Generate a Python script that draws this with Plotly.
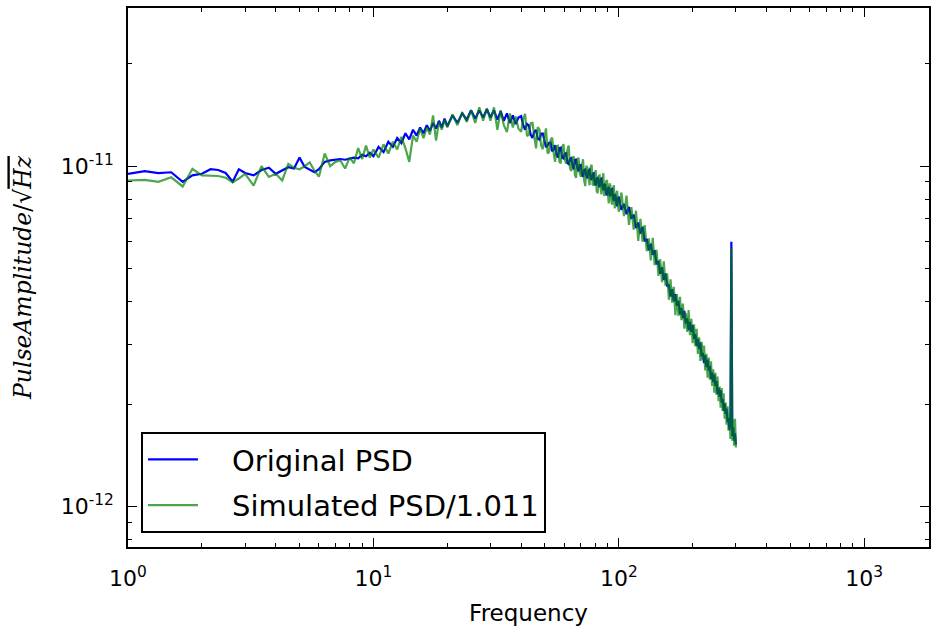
import plotly.graph_objects as go

# ---------------- data ----------------
freq_hz = [
    1.0, 1.17, 1.33, 1.5, 1.67, 1.83, 2.0, 2.17, 2.33, 2.5, 2.67, 2.83,
    3.0, 3.25, 3.5, 3.75, 4.0, 4.25, 4.5, 4.75, 5.0, 5.25, 5.5, 5.75,
    6.0, 6.33, 6.67, 7.0, 7.33, 7.67, 8.0, 8.33, 8.67, 9.0, 9.33, 9.67,
    10, 10.5, 11, 11.5, 12, 12.5, 13, 13.5, 14, 14.5,
    15, 15.5, 16, 16.5, 17, 17.5, 18, 18.5, 19, 19.5,
    20, 21, 22, 23, 24, 25, 26, 27, 28, 29,
    30, 31, 32, 33, 34, 35, 36, 37, 38, 39,
    40, 40.75, 41.5, 42.25, 43, 43.75, 44.5, 45.25, 46, 46.75,
    47.5, 48.25, 49, 49.75, 50.5, 51.25, 52, 52.75, 53.5, 54.25,
    55, 55.75, 56.5, 57.25, 58, 58.75, 59.5, 60.25, 61, 61.75,
    62.5, 63.25, 64, 64.75, 65.5, 66.25, 67, 67.75, 68.5, 69.25,
    70, 70.75, 71.5, 72.25, 73, 73.75, 74.5, 75.25, 76, 76.75,
    77.5, 78.25, 79, 79.75, 80.5, 81.25, 82, 82.75, 83.5, 84.25,
    85, 85.75, 86.5, 87.25, 88, 88.75, 89.5, 90.25, 91, 91.75,
    92.5, 93.25, 94, 94.75, 95.5, 96.25, 97, 97.75, 98.5, 99.25,
    100, 102.5, 105, 107.5, 110, 112.5, 115, 117.5, 120, 122.5,
    125, 127.5, 130, 132.5, 135, 137.5, 140, 142.5, 145, 147.5,
    150, 152.5, 155, 157.5, 160, 162.5, 165, 167.5, 170, 172.5,
    175, 177.5, 180, 182.5, 185, 187.5, 190, 192.5, 195, 197.5,
    200, 202.5, 205, 207.5, 210, 212.5, 215, 217.5, 220, 222.5,
    225, 227.5, 230, 232.5, 235, 237.5, 240, 242.5, 245, 247.5,
    250, 252.5, 255, 257.5, 260, 262.5, 265, 267.5, 270, 272.5,
    275, 277.5, 280, 282.5, 285, 287.5, 290, 292.5, 295, 297.5,
    300,
]

# amplitudes in units of 1e-12 / sqrt(Hz)
original_psd = [
    9.5, 9.67, 9.55, 9.6, 9.0, 9.4, 9.5, 9.8, 9.75, 9.55, 9.0, 9.8,
    9.55, 9.4, 9.75, 9.9, 9.5, 9.7, 9.93, 9.85, 10.6, 9.95, 9.75, 9.6,
    9.8, 10.3, 10.4, 10.45, 10.5, 10.45, 10.55, 10.6, 10.55, 10.8, 10.7, 10.95,
    10.7, 11.4, 11.0, 11.8, 11.4, 12.1, 11.7, 12.5, 12.0, 12.8,
    12.3, 13.0, 12.5, 13.2, 12.7, 13.4, 12.9, 13.6, 13.0, 13.8,
    13.1, 14.1, 13.4, 14.3, 13.7, 14.6, 13.8, 14.6, 13.9, 14.7,
    13.9, 14.6, 13.7, 14.5, 13.6, 14.3, 13.4, 14.1, 13.3, 13.9,
    14.04, 13.22, 12.8, 13.31, 13.16, 12.37, 12.1, 12.63, 12.77, 12.05,
    11.96, 12.46, 12.48, 11.93, 11.38, 11.5, 11.72, 11.73, 11.06, 11.19,
    11.54, 10.8, 10.61, 11.31, 11.34, 10.61, 10.54, 10.89, 10.92, 10.21,
    10.14, 10.5, 10.56, 10.07, 9.79, 10.43, 10.45, 9.9, 9.65, 10.08,
    10.09, 9.46, 9.31, 9.75, 9.79, 9.36, 9.22, 9.73, 9.78, 9.19,
    9.16, 9.49, 9.53, 8.92, 8.78, 9.19, 9.23, 8.82, 8.68, 9.17,
    9.2, 8.71, 8.49, 8.87, 8.82, 8.34, 8.21, 8.59, 8.7, 8.23,
    8.18, 8.55, 8.58, 8.04, 7.91, 8.26, 8.21, 7.76, 7.63, 8.0,
    8.14, 7.44, 7.75, 7.23, 7.59, 7.01, 7.21, 6.58, 6.83, 6.34,
    6.64, 6.02, 6.11, 5.66, 5.92, 5.49, 5.67, 5.15, 5.27, 4.83,
    5.05, 4.63, 4.84, 4.43, 4.49, 4.14, 4.35, 4.01, 4.21, 3.89,
    4.02, 3.67, 3.83, 3.58, 3.76, 3.45, 3.57, 3.3, 3.49, 3.26,
    3.41, 3.11, 3.21, 2.96, 3.11, 2.9, 3.03, 2.76, 2.83, 2.64,
    2.78, 2.57, 2.7, 2.51, 2.59, 2.37, 2.48, 2.32, 2.44, 2.26,
    2.34, 2.14, 2.23, 2.1, 2.2, 2.02, 2.07, 1.91, 2.01, 1.87,
    1.94, 1.77, 1.82, 1.68, 1.77, 6.0, 1.61, 1.71, 1.56, 1.64,
    1.52,
]

simulated_psd = [
    9.08, 9.12, 9.0, 9.28, 8.72, 9.83, 9.4, 9.38, 9.36, 9.25, 8.97, 9.2,
    9.5, 8.77, 10.0, 9.3, 9.5, 9.08, 10.16, 9.9, 9.8, 10.0, 10.27, 9.7,
    9.32, 10.9, 10.0, 10.3, 10.4, 9.85, 10.6, 10.2, 11.3, 10.5, 11.5, 10.6,
    11.2, 10.6, 11.6, 10.9, 11.8, 11.2, 12.2, 11.3, 10.3, 12.3,
    11.8, 12.9, 12.1, 13.0, 12.4, 14.1, 11.9, 13.5, 12.8, 13.7,
    13.0, 14.2, 13.2, 14.4, 13.5, 14.6, 13.4, 14.9, 13.6, 14.8,
    13.6, 14.9, 12.8, 14.6, 13.2, 12.6, 14.3, 13.0, 14.0, 12.9,
    12.62, 13.75, 14.26, 12.27, 12.38, 13.39, 13.42, 12.25, 11.28, 13.04,
    12.81, 11.5, 11.22, 12.17, 12.92, 10.91, 11.02, 11.96, 12.14, 10.96,
    10.3, 11.46, 11.49, 10.32, 10.19, 11.37, 11.61, 10.47, 10.18, 11.16,
    11.5, 9.88, 9.68, 10.49, 10.71, 9.42, 9.25, 10.4, 10.6, 9.58,
    9.31, 10.04, 10.48, 9.07, 8.74, 10.03, 9.88, 9.26, 8.79, 9.94,
    10.1, 8.84, 8.79, 9.38, 9.74, 8.46, 8.33, 9.36, 9.4, 8.63,
    8.27, 9.06, 9.54, 8.18, 8.3, 9.03, 9.11, 8.33, 7.77, 8.9,
    8.77, 7.89, 7.71, 8.36, 8.8, 7.53, 7.65, 8.32, 8.47, 7.68,
    7.35, 8.37, 7.14, 8.2, 6.72, 7.58, 6.51, 7.4, 6.03, 7.0,
    6.0, 6.71, 5.63, 6.14, 5.29, 6.16, 5.12, 5.68, 4.76, 5.33,
    4.56, 5.25, 4.46, 4.84, 4.05, 4.65, 3.97, 4.42, 3.65, 4.21,
    3.63, 4.13, 3.53, 3.95, 3.33, 3.7, 3.26, 3.78, 3.19, 3.56,
    3.02, 3.43, 2.96, 3.33, 2.81, 3.14, 2.68, 3.05, 2.69, 2.97,
    2.51, 2.81, 2.39, 2.74, 2.36, 2.67, 2.26, 2.53, 2.16, 2.47,
    2.13, 2.41, 2.04, 2.25, 1.95, 2.23, 1.91, 2.15, 1.81, 2.02,
    1.74, 1.97, 1.67, 1.87, 1.58, 5.75, 1.56, 1.8, 1.51, 1.81,
    1.49,
]

assert len(freq_hz) == len(original_psd) == len(simulated_psd)

UNIT = 1e-12

series_names = ["Original PSD", "Simulated PSD/1.011"]

x_tick_vals = [1, 10, 100, 1000]
x_tick_text = ["10<sup>0</sup>", "10<sup>1</sup>", "10<sup>2</sup>", "10<sup>3</sup>"]
y_tick_vals = [1e-12, 1e-11]
y_tick_text = ["10<sup>-12</sup>", "10<sup>-11</sup>"]

x_minor = [m * 10 ** e for e in range(0, 4) for m in range(2, 10)]
y_minor = [m * 10.0 ** e for e in (-13, -12, -11) for m in range(2, 10)]

# ---------------- figure ----------------
fig = go.Figure()
fig.add_trace(go.Scatter(
    x=freq_hz, y=[v * UNIT for v in original_psd], mode="lines",
    name="\u2002\u2002" + series_names[0], legendgroup="a",
    line=dict(color="rgb(0,0,255)", width=2.2),
))
fig.add_trace(go.Scatter(
    x=freq_hz, y=[v * UNIT for v in simulated_psd], mode="lines",
    name="\u2002\u2002" + series_names[1], legendgroup="b",
    line=dict(color="rgba(0,128,0,0.7)", width=2.2),
))

tick_font = dict(family="DejaVu Sans", size=22, color="black")

fig.update_layout(
    width=931, height=626,
    margin=dict(l=128, r=0, t=8, b=79),
    paper_bgcolor="white", plot_bgcolor="white",
    showlegend=True,
    legend=dict(
        x=0.0162, y=0.026, xanchor="left", yanchor="bottom",
        bordercolor="black", borderwidth=2, bgcolor="white",
        font=dict(family="DejaVu Sans", size=29, color="black"),
        itemwidth=50, tracegroupgap=5,
    ),
)

fig.update_xaxes(
    type="log", range=[0, 3.264],
    showgrid=False, zeroline=False,
    showline=True, linecolor="black", linewidth=1.6, mirror="ticks",
    ticks="inside", ticklen=9, tickwidth=1, tickcolor="black",
    tickmode="array", tickvals=x_tick_vals, ticktext=x_tick_text,
    tickfont=tick_font, ticklabelstandoff=11,
    minor=dict(tickmode="array", tickvals=x_minor, ticks="inside",
               ticklen=4.5, tickwidth=1, tickcolor="black", showgrid=False),
    title=dict(text="Frequency", font=dict(family="DejaVu Sans", size=23, color="black"),
               standoff=18),
)

fig.update_yaxes(
    type="log", range=[-12.119, -10.535],
    showgrid=False, zeroline=False,
    showline=True, linecolor="black", linewidth=1.6, mirror="ticks",
    ticks="inside", ticklen=9, tickwidth=1, tickcolor="black",
    tickmode="array", tickvals=y_tick_vals, ticktext=y_tick_text,
    tickfont=tick_font, ticklabelstandoff=8,
    minor=dict(tickmode="array", tickvals=y_minor, ticks="inside",
               ticklen=4.5, tickwidth=1, tickcolor="black", showgrid=False),
    title=dict(
        text='<i>PulseAmplitude</i>/√<span style="text-decoration:overline"><i>Hz</i></span>',
        font=dict(family="DejaVu Serif", size=23.5, color="black"),
        standoff=22,
    ),
)

fig.write_html("out.html")
